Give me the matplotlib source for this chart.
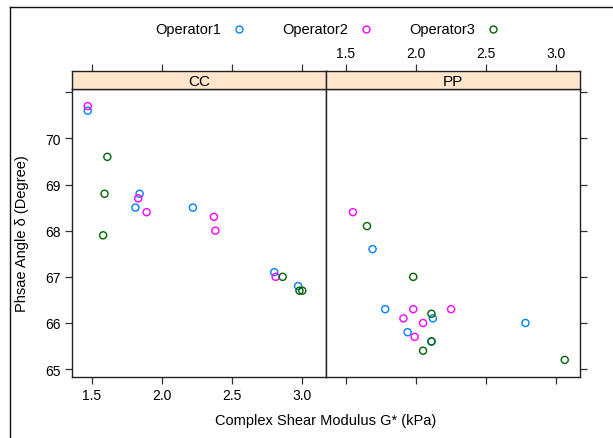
import matplotlib.pyplot as plt

plt.rcParams["font.family"] = ["Liberation Sans", "DejaVu Sans"]

panels = ["CC", "PP"]
operators = ["Operator1", "Operator2", "Operator3"]
colors = ["#0080ff", "#ff00ff", "#006400"]

# complex shear modulus (kPa) and phase angle (degree) per panel / operator
cc_x = {
    "Operator1": [1.47, 1.84, 1.81, 2.22, 2.80, 2.97],
    "Operator2": [1.47, 1.83, 1.89, 2.37, 2.38, 2.81],
    "Operator3": [1.61, 1.59, 1.58, 2.86, 2.98, 3.00],
}
cc_y = {
    "Operator1": [70.6, 68.8, 68.5, 68.5, 67.1, 66.8],
    "Operator2": [70.7, 68.7, 68.4, 68.3, 68.0, 67.0],
    "Operator3": [69.6, 68.8, 67.9, 67.0, 66.7, 66.7],
}
pp_x = {
    "Operator1": [1.69, 1.78, 2.12, 2.78, 1.94, 2.11],
    "Operator2": [1.55, 1.98, 2.25, 1.91, 2.05, 1.99],
    "Operator3": [1.65, 1.98, 2.11, 2.11, 2.05, 3.06],
}
pp_y = {
    "Operator1": [67.6, 66.3, 66.1, 66.0, 65.8, 65.6],
    "Operator2": [68.4, 66.3, 66.3, 66.1, 66.0, 65.7],
    "Operator3": [68.1, 67.0, 66.2, 65.6, 65.4, 65.2],
}
panel_data = {"CC": (cc_x, cc_y), "PP": (pp_x, pp_y)}

x_ticks = [1.5, 2.0, 2.5, 3.0]
x_labels = ["1.5", "2.0", "2.5", "3.0"]
y_ticks = [65, 66, 67, 68, 69, 70, 71]
y_labels = ["65", "66", "67", "68", "69", "70", ""]

W, H = 613, 439
fig = plt.figure(figsize=(W / 100, H / 100), dpi=100)

xlim = (1.358, 3.169)
ylim = (64.83, 71.07)
left0, pw = 72, 254
top_panel, bottom_panel, top_strip = 90, 378, 72


def fx(px):
    return px / W


def fy(py):
    return 1 - py / H


# frame lines along the top and left of the page
fig.lines.append(plt.Line2D([fx(9.5), 1.0], [fy(7.5), fy(7.5)], transform=fig.transFigure,
                            color="#111111", linewidth=1.0))
fig.lines.append(plt.Line2D([fx(9.5), fx(9.5)], [fy(7.5), 0.0], transform=fig.transFigure,
                            color="#111111", linewidth=1.0))

for i, name in enumerate(panels):
    lx = left0 + i * pw
    ax = fig.add_axes([fx(lx), fy(bottom_panel), pw / W, (bottom_panel - top_panel) / H])
    sx = fig.add_axes([fx(lx), fy(top_panel), pw / W, (top_panel - top_strip) / H])

    xs, ys = panel_data[name]
    for op, c in zip(operators, colors):
        ax.scatter(xs[op], ys[op], s=26, facecolors="none", edgecolors=c, linewidths=1.0)

    ax.set_xlim(*xlim)
    ax.set_ylim(*ylim)
    ax.set_xticks(x_ticks)
    ax.set_yticks(y_ticks)
    ax.tick_params(direction="out", length=5, width=0.9, color="#333333",
                   labelsize=10, pad=3)
    if i == 0:
        ax.set_xticklabels(x_labels)
        ax.set_yticklabels(y_labels)
        ax.tick_params(right=False)
    else:
        ax.tick_params(left=False, labelleft=False, bottom=True, labelbottom=False,
                       right=True)
    for sp in ax.spines.values():
        sp.set_linewidth(1.0)
        sp.set_color("#222222")

    sx.set_facecolor("#ffe5cc")
    sx.set_xlim(*xlim)
    sx.set_yticks([])
    sx.set_xticks(x_ticks)
    sx.tick_params(axis="x", bottom=False, labelbottom=False, top=True,
                   labeltop=(i == 1), direction="out", length=5, width=0.9,
                   color="#333333", labelsize=10, pad=3)
    if i == 1:
        sx.set_xticklabels(x_labels)
    for sp in sx.spines.values():
        sp.set_linewidth(1.0)
        sp.set_color("#222222")
    sx.text(0.5, 0.45, name, transform=sx.transAxes, ha="center", va="center",
            fontsize=11)

fig.text(fx(22), fy(234), "Phsae Angle δ (Degree)", rotation=90, ha="center",
         va="center", fontsize=10.5)
fig.text(fx(326), fy(421), "Complex Shear Modulus G* (kPa)", ha="center",
         va="center", fontsize=10.5)

# key above the panels
key_text_x = [155, 282, 409]
key_mark_x = [239, 366, 493]
for op, c, tx, mx in zip(operators, colors, key_text_x, key_mark_x):
    fig.text(fx(tx), fy(30), op, ha="left", va="center", fontsize=10.5)
    fig.lines.append(plt.Line2D([fx(mx)], [fy(30)], transform=fig.transFigure,
                                marker="o", markersize=5, markerfacecolor="none",
                                markeredgecolor=c, markeredgewidth=1.0, linestyle="none"))

fig.savefig("out.png", dpi=100)
